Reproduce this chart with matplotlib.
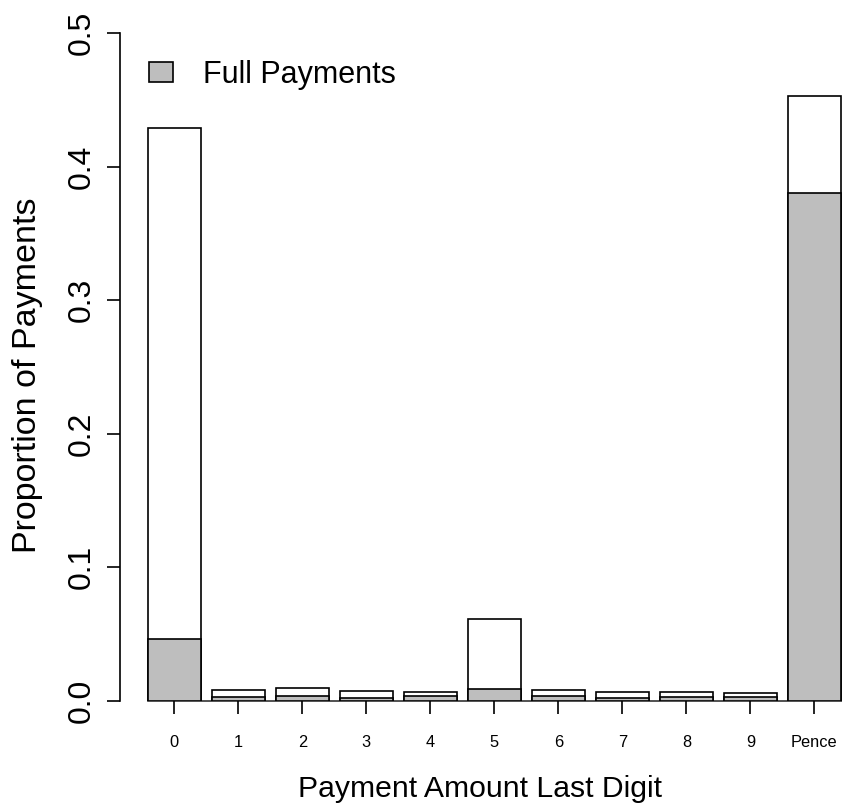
import matplotlib.pyplot as plt
import numpy as np

plt.rcParams['font.family'] = ['Liberation Sans', 'DejaVu Sans']

# proportions
digits = ['0', '1', '2', '3', '4', '5', '6', '7', '8', '9', 'Pence']
all_payments = [0.429, 0.0078, 0.0093, 0.0070, 0.0068, 0.0610, 0.0078, 0.0068, 0.0068, 0.0058, 0.4525]
full_payments = [0.0459, 0.0026, 0.0035, 0.0022, 0.0033, 0.0090, 0.0033, 0.0022, 0.0028, 0.0028, 0.380]

W, H = 842, 810
fig = plt.figure(figsize=(W / 100, H / 100), dpi=100)

# R barplot geometry: width 1, space 0.2
n = len(digits)
left_edges = 0.2 + 1.2 * np.arange(n)
centers = left_edges + 0.5
xlim = (0.2 - 0.52, 0.2 + 1.2 * n - 0.2 + 0.52)

px_per_unit = 53.33
ax_left, ax_right = 120, 120 + (xlim[1] - xlim[0]) * px_per_unit
ax_top, ax_bottom = 33, 700.7
ax = fig.add_axes([ax_left / W, 1 - ax_bottom / H, (ax_right - ax_left) / W, (ax_bottom - ax_top) / H])
ax.set_xlim(*xlim)
ax.set_ylim(0, 0.5)

ax.bar(centers, all_payments, width=1.0, color='white', edgecolor='black', linewidth=1.2, zorder=2)
ax.bar(centers, full_payments, width=1.0, color='#bebebe', edgecolor='black', linewidth=1.2, zorder=3,
       label='Full Payments')
ax.plot([left_edges[0], xlim[1]], [0, 0], color='#333333', linewidth=1.2, zorder=1, clip_on=False)

for s in ['top', 'right', 'bottom']:
    ax.spines[s].set_visible(False)
ax.spines['left'].set_linewidth(1.2)

ax.set_yticks([0.0, 0.1, 0.2, 0.3, 0.4, 0.5])
ax.set_yticklabels(['0.0', '0.1', '0.2', '0.3', '0.4', '0.5'], rotation=90, va='center')
ax.tick_params(axis='y', length=9.5, width=1.2, labelsize=23, pad=7)
ax.set_xticks(centers)
ax.set_xticklabels(digits)
ax.tick_params(axis='x', length=9, width=1.2, labelsize=11.8, pad=16, colors='black')

fig.text(28 / W, 1 - 375 / H, 'Proportion of Payments', fontsize=24.5, rotation=90,
         ha='center', va='center')
fig.text(480 / W, 1 - 797 / H, 'Payment Amount Last Digit', fontsize=21.7, ha='center', va='baseline')

ax.legend(loc='upper left', bbox_to_anchor=(149 / W, 1 - 60 / H), bbox_transform=fig.transFigure,
          frameon=False, fontsize=22, handlelength=0.78, handleheight=0.65, handletextpad=1.0,
          borderpad=0, borderaxespad=0)

fig.savefig('out.png', dpi=100)
